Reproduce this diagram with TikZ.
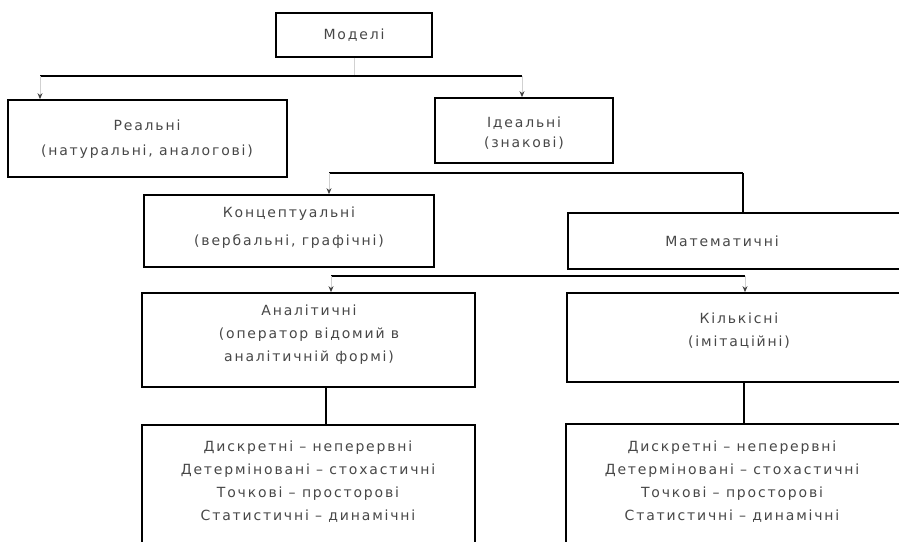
\documentclass[tikz,border=0pt]{standalone}
\usepackage{fontspec}
\newfontfamily\lblfont[LetterSpace=13]{DejaVu Sans}
\usetikzlibrary{arrows.meta}
\begin{document}
\begin{tikzpicture}[x=1pt,y=-1pt,
  box/.style={draw=black, line width=1.7pt, inner sep=0pt, align=center,
    text=black!72, font={\lblfont\fontsize{14}{23}\selectfont}},
  txt/.style={inner sep=0pt, align=center,
    text=black!72, font={\lblfont\fontsize{14}{23}\selectfont}},
  bus/.style={draw=black, line width=1.7pt},
  faint/.style={draw=black!18, line width=1pt, -{Stealth[length=6pt,width=5pt,black!75]}}]
\useasboundingbox (0,0) rectangle (899,541);

% level 0
\node[box, minimum width=156pt, minimum height=44pt] (model) at (354,35) {Моделі};

% level 1
\node[box, minimum width=279pt, minimum height=77pt] (real) at (147.5,138.5) {};
\node[txt] (realtext) at (147,139) {Реальні\\[2pt](натуральні, аналогові)};
\node[box, minimum width=178pt, minimum height=65pt] (ideal) at (524,130.5) {};
\node[txt] (idealtext) at (524,133) {Ідеальні\\[-3pt](знакові)};

% level 2
\node[box, minimum width=290pt, minimum height=72pt] (concept) at (289,231) {};
\node[txt] (concepttext) at (289,228) {Концептуальні\\[5pt](вербальні, графічні)};
\node[box, minimum width=352pt, minimum height=56pt] (math) at (744,241) {};
\node[txt] (mathtext) at (722,241) {Математичні};

% level 3
\node[box, minimum width=333pt, minimum height=94pt] (analyt) at (308.5,340) {};
\node[txt] (analyttext) at (309,335)
  {Аналітичні\\(оператор відомий в\\аналітичній формі)};
\node[box, minimum width=353pt, minimum height=89pt] (quant) at (743.5,337.5) {};
\node[txt] (quanttext) at (739,331) {Кількісні\\(імітаційні)};

% level 4
\newcommand\pairlist{Дискретні – неперервні\\Детерміновані – стохастичні\\Точкові – просторові\\Статистичні – динамічні}
\node[box, minimum width=333pt, minimum height=135pt] (propA) at (308.5,492.5) {};
\node[txt] (propAtext) at (308,482) {\pairlist};
\node[box, minimum width=354pt, minimum height=136pt] (propQ) at (743,492) {};
\node[txt] (propQtext) at (732,482) {\pairlist};

% branching lines
\coordinate (b1) at (354,76);
\coordinate (b1l) at (40,76);
\coordinate (b1r) at (522,76);
\coordinate (b2l) at (329,173);
\coordinate (b2r) at (743,173);
\coordinate (b3l) at (331,276);
\coordinate (b3r) at (745,276);

\draw[draw=black!18, line width=1pt] (model.south) -- (b1);
\draw[bus] (b1l) -- (b1r);
\draw[faint] (b1l) -- (b1l |- real.north);
\draw[faint] (b1r) -- (b1r |- ideal.north);

\draw[bus] (b2l) -- (b2r);
\draw[faint] (b2l) -- (b2l |- concept.north);
\draw[bus] (b2r) -- (b2r |- math.north);

\draw[bus] (b3l) -- (b3r);
\draw[faint] (b3l) -- (b3l |- analyt.north);
\draw[faint] (b3r) -- (b3r |- quant.north);

\draw[bus] (326,387) -- (326,425);
\draw[bus] (744,382) -- (744,424);
\end{tikzpicture}
\end{document}
